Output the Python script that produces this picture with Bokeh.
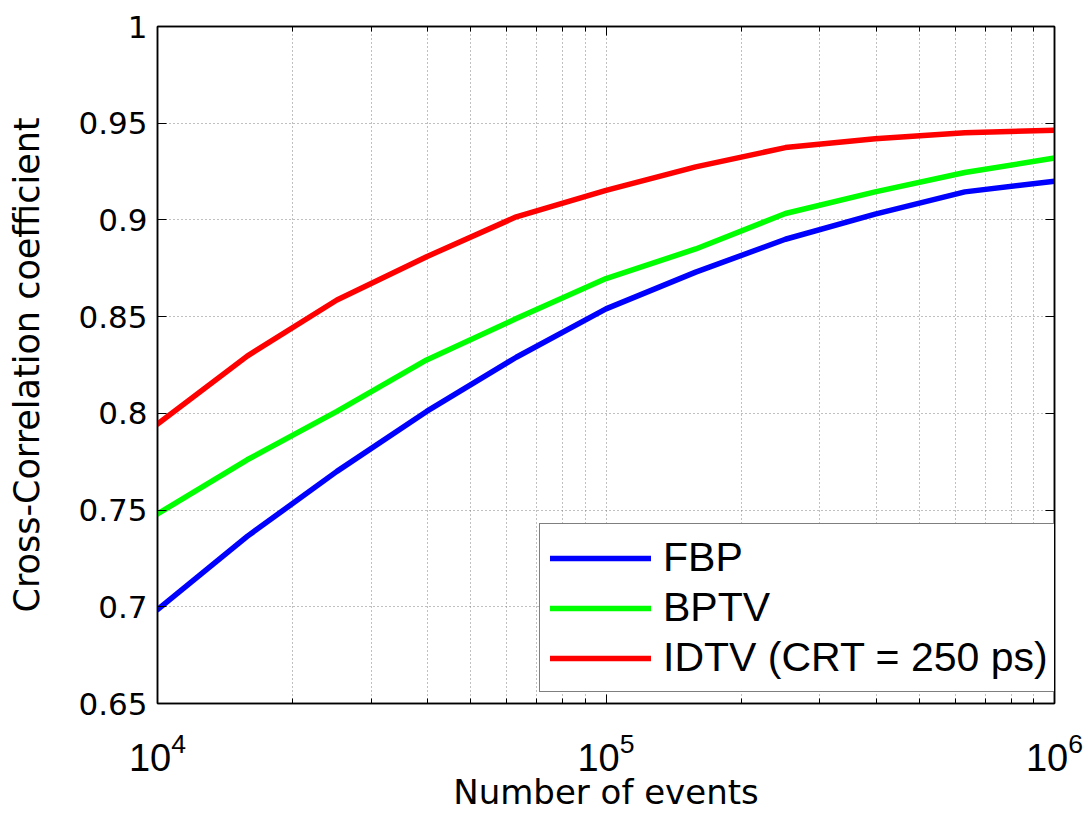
from bokeh.plotting import figure
from bokeh.models import FixedTicker, LogAxis, LinearAxis, Legend, LegendItem, Range1d, LogTickFormatter
from bokeh.embed import file_html
from bokeh.resources import INLINE

# ---- data ----
events = [10000, 15849, 25119, 39811, 63096, 100000, 158489, 251189, 398107, 630957, 1000000]
fbp = [0.6985, 0.7364, 0.770, 0.801, 0.829, 0.854, 0.873, 0.890, 0.903, 0.9145, 0.920]
bptv = [0.748, 0.776, 0.801, 0.8276, 0.849, 0.8697, 0.885, 0.9033, 0.9145, 0.9245, 0.932]
idtv = [0.7945, 0.8296, 0.8586, 0.881, 0.9016, 0.9153, 0.9274, 0.9374, 0.942, 0.9451, 0.9463]

series_names = ["FBP", "BPTV", "IDTV (CRT = 250 ps)"]
series_colors = ["#0000ff", "#00ff00", "#ff0000"]

x_major_ticks = [1e4, 1e5, 1e6]
x_minor_ticks = [2e4, 3e4, 4e4, 5e4, 6e4, 7e4, 8e4, 9e4,
                 2e5, 3e5, 4e5, 5e5, 6e5, 7e5, 8e5, 9e5]
y_ticks = [0.65, 0.7, 0.75, 0.8, 0.85, 0.9, 0.95, 1]
y_tick_labels = ["0.65", "0.7", "0.75", "0.8", "0.85", "0.9", "0.95", "1"]

x_label = "Number of events"
y_label = "Cross-Correlation coefficient"

TICK_FONT = "DejaVu Sans"
LEG_FONT = "Liberation Sans"

p = figure(width=1087, height=814, x_axis_type="log",
           x_range=Range1d(1e4, 1e6), y_range=Range1d(0.65, 1.0),
           output_backend="svg", toolbar_location=None,
           min_border_left=157, min_border_right=33,
           min_border_top=26, min_border_bottom=110)
p.background_fill_color = "white"
p.border_fill_color = "white"
p.outline_line_color = "black"
p.outline_line_width = 1.5

# main axes
p.xaxis.ticker = FixedTicker(ticks=x_major_ticks, minor_ticks=x_minor_ticks)
p.yaxis.ticker = FixedTicker(ticks=y_ticks)

for ax in (p.xaxis[0], p.yaxis[0]):
    ax.axis_line_color = "black"
    ax.axis_line_width = 1.5
    ax.major_tick_line_color = "black"
    ax.major_tick_in = 9
    ax.major_tick_out = 0
    ax.minor_tick_line_color = "black"
    ax.minor_tick_in = 5
    ax.minor_tick_out = 0
    ax.axis_label_text_font = TICK_FONT
    ax.axis_label_text_font_style = "normal"
    ax.axis_label_text_color = "black"

p.yaxis.minor_tick_line_color = None
p.yaxis.major_label_overrides = {(int(v) if v == int(v) else v): s for v, s in zip(y_ticks, y_tick_labels)}
p.yaxis.major_label_text_font = TICK_FONT
p.yaxis.major_label_text_font_size = "31px"
p.yaxis.major_label_text_color = "black"
p.yaxis.major_label_standoff = 10
p.yaxis.axis_label = y_label
p.yaxis.axis_label_text_font_size = "35px"
p.yaxis.axis_label_standoff = 28

# x tick labels: 10 with superscript exponent (LogTickFormatter)
p.xaxis.formatter = LogTickFormatter()
p.xaxis.major_label_text_font = LEG_FONT
p.xaxis.major_label_text_font_size = "38px"
p.xaxis.major_label_text_color = "black"
p.xaxis.major_label_standoff = 28
p.xaxis.axis_label = x_label
p.xaxis.axis_label_text_font_size = "34px"
p.xaxis.axis_label_standoff = -2

# mirrored axes (ticks only)
top = LogAxis(ticker=FixedTicker(ticks=x_major_ticks, minor_ticks=x_minor_ticks),
              major_label_text_font_size="8px", major_label_text_color=None,
              major_tick_in=9, major_tick_out=0,
              minor_tick_in=5, minor_tick_out=0, axis_line_color="black",
              axis_line_width=1.5, major_label_standoff=0)
p.add_layout(top, "above")
right = LinearAxis(ticker=FixedTicker(ticks=y_ticks),
                   major_label_text_font_size="8px", major_label_text_color=None,
                   major_tick_in=9, major_tick_out=0, minor_tick_line_color=None,
                   axis_line_color="black", axis_line_width=1.5, major_label_standoff=0)
p.add_layout(right, "right")

# grids
for g in (p.xgrid, p.ygrid):
    g.grid_line_color = "#808080"
    g.grid_line_dash = "1 3"
p.xgrid.minor_grid_line_color = "#808080"
p.xgrid.minor_grid_line_dash = "1 3"

# curves
renderers = []
for ys, c in zip([fbp, bptv, idtv], series_colors):
    r = p.line(events, ys, line_color=c, line_width=5.5, line_join="round", line_cap="round")
    renderers.append(r)

legend = Legend(items=[LegendItem(label=n, renderers=[r]) for n, r in zip(series_names, renderers)],
                location=(382, 11), orientation="vertical",
                label_text_font=LEG_FONT, label_text_font_size="41px", label_text_color="black",
                glyph_width=101, glyph_height=40, label_height=40, label_standoff=12,
                spacing=3, padding=10, margin=0,
                border_line_color="black", border_line_width=1.5,
                background_fill_color="white", background_fill_alpha=1.0)
p.add_layout(legend)

open("out.html", "w").write(file_html(p, INLINE))
